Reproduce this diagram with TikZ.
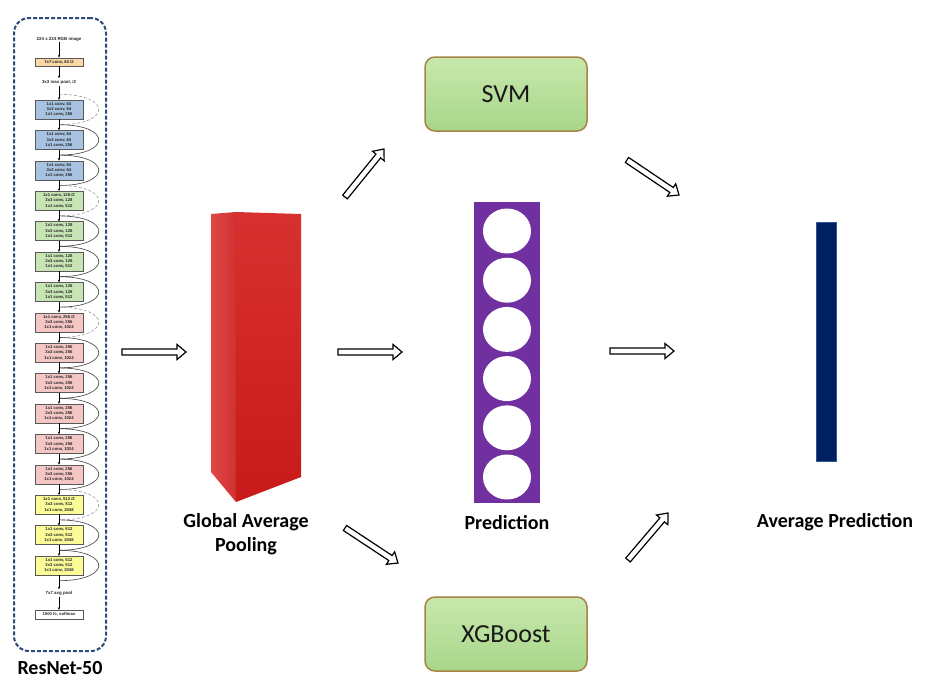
\documentclass[tikz,border=0pt]{standalone}
\usepackage{fontspec}
\setmainfont{Carlito}
\newfontfamily\arialf{Liberation Sans}
\usetikzlibrary{calc,arrows.meta}
\definecolor{boxblue}{HTML}{2E4A78}
\definecolor{cblue}{HTML}{A7C3E1}
\definecolor{cgreen}{HTML}{C7E4B4}
\definecolor{cpink}{HTML}{F4C7C4}
\definecolor{cyellow}{HTML}{FBFB98}
\definecolor{corange}{HTML}{F9D7A6}
\definecolor{redA}{HTML}{E04848}
\definecolor{redB}{HTML}{D03030}
\definecolor{redC}{HTML}{D83030}
\definecolor{redD}{HTML}{C81A1A}
\definecolor{purp}{HTML}{7030A0}
\definecolor{navy}{HTML}{002060}
\definecolor{navyedge}{HTML}{2F5597}
\definecolor{grnTop}{HTML}{C8E8AC}
\definecolor{grnBot}{HTML}{A8D68A}
\definecolor{grnEdge}{HTML}{A58444}

\newcommand{\blockarrow}[2]{%
  \coordinate (bah) at ($(#2)!9pt!(#1)$);
  \draw[barrow] ($(#1)!3pt!90:(#2)$) -- ($(bah)!3pt!-90:(#1)$) -- ($(bah)!7.5pt!-90:(#1)$)
    -- (#2) -- ($(bah)!7.5pt!90:(#1)$) -- ($(bah)!3pt!90:(#1)$) -- ($(#1)!3pt!-90:(#2)$) -- cycle;}

\newcommand{\resblock}[6]{%
  \pgfmathsetmacro{\yt}{100+30.4*#1}%
  \draw[#6] (59,\yt-5.7) .. controls (112,\yt-5.7) and (112,\yt+24.7) .. (59,\yt+24.7);
  \node[rblock,fill=#2] (b#1) at (59,\yt+9.5) {#3\\#4\\#5};}

\begin{document}
\begin{tikzpicture}[x=1pt,y=-1pt,
  barrow/.style={draw=black,fill=white,line width=1.2pt,line join=miter},
  rblock/.style={draw=gray!70!black,line width=0.4pt,minimum width=48pt,minimum height=19pt,
     inner sep=0pt,align=center,font=\arialf\bfseries\fontsize{4.2}{5.3}\selectfont,text=black!85},
  tinytext/.style={inner sep=0pt,font=\arialf\bfseries\fontsize{4.4}{5.3}\selectfont,text=black!85},
  vline/.style={line width=0.5pt,-{Stealth[length=2.6pt,width=2.4pt]}},
  skipsolid/.style={line width=0.6pt,draw=black!75},
  skipdash/.style={line width=0.5pt,draw=black!45,densely dashed},
  clsbox/.style={rounded corners=10pt,minimum width=162pt,minimum height=74pt,
     draw=grnEdge,line width=1.5pt,top color=grnTop,bottom color=grnBot,
     font=\fontsize{26}{30}\selectfont,text=black!90},
  biglabel/.style={font=\bfseries\fontsize{20}{24}\selectfont,align=center,inner sep=0pt}]
\useasboundingbox (0,0) rectangle (934,691);
\fill[white] (0,0) rectangle (934,691);

% ResNet-50 column
\node[draw=boxblue,line width=2pt,dash pattern=on 4pt off 2pt,rounded corners=15pt,
  minimum width=92pt,minimum height=633pt] (resbox) at (60,334.5) {};
\node[tinytext] (inimg) at (59,39) {224 x 224 RGB image};
\node[rblock,fill=corange,minimum height=8.5pt] (conv1) at (59,62) {7x7 conv, 64 /2};
\node[tinytext] (mpool) at (59,82) {3x3 max pool, /2};

\resblock{0}{cblue}{1x1 conv, 64}{3x3 conv, 64}{1x1 conv, 256}{skipdash}
\resblock{1}{cblue}{1x1 conv, 64}{3x3 conv, 64}{1x1 conv, 256}{skipsolid}
\resblock{2}{cblue}{1x1 conv, 64}{3x3 conv, 64}{1x1 conv, 256}{skipsolid}
\resblock{3}{cgreen}{1x1 conv, 128 /2}{3x3 conv, 128}{1x1 conv, 512}{skipdash}
\resblock{4}{cgreen}{1x1 conv, 128}{3x3 conv, 128}{1x1 conv, 512}{skipsolid}
\resblock{5}{cgreen}{1x1 conv, 128}{3x3 conv, 128}{1x1 conv, 512}{skipsolid}
\resblock{6}{cgreen}{1x1 conv, 128}{3x3 conv, 128}{1x1 conv, 512}{skipsolid}
\resblock{7}{cpink}{1x1 conv, 256 /2}{3x3 conv, 256}{1x1 conv, 1024}{skipdash}
\resblock{8}{cpink}{1x1 conv, 256}{3x3 conv, 256}{1x1 conv, 1024}{skipsolid}
\resblock{9}{cpink}{1x1 conv, 256}{3x3 conv, 256}{1x1 conv, 1024}{skipsolid}
\resblock{10}{cpink}{1x1 conv, 256}{3x3 conv, 256}{1x1 conv, 1024}{skipsolid}
\resblock{11}{cpink}{1x1 conv, 256}{3x3 conv, 256}{1x1 conv, 1024}{skipsolid}
\resblock{12}{cpink}{1x1 conv, 256}{3x3 conv, 256}{1x1 conv, 1024}{skipsolid}
\resblock{13}{cyellow}{1x1 conv, 512 /2}{3x3 conv, 512}{1x1 conv, 2048}{skipdash}
\resblock{14}{cyellow}{1x1 conv, 512}{3x3 conv, 512}{1x1 conv, 2048}{skipsolid}
\resblock{15}{cyellow}{1x1 conv, 512}{3x3 conv, 512}{1x1 conv, 2048}{skipsolid}

\node[tinytext] (apool) at (59,593) {7x7 avg pool};
\node[rblock,fill=white,minimum height=9pt] (fc) at (59,614.5) {1000 fc, softmax};

\draw[vline] (inimg.south) ++(0,1) -- (conv1.north);
\draw[vline] (conv1.south) -- ($(mpool.north)+(0,-1.5)$);
\draw[vline] ($(mpool.south)+(0,1.5)$) -- (b0.north);
\foreach \i [evaluate=\i as \j using int(\i+1)] in {0,...,14}
  \draw[vline] (b\i.south) -- (b\j.north);
\draw[vline] (b15.south) -- ($(apool.north)+(0,-1.5)$);
\draw[vline] ($(apool.south)+(0,1.5)$) -- (fc.north);

\node[biglabel] (resname) at (60,668) {ResNet-50};

% Global average pooling cuboid
\shade[left color=redA,right color=redB] (211,214) -- (236,212) -- (236,502) -- (211,472) -- cycle;
\shade[top color=redC,bottom color=redD] (236,212) -- (301,214) -- (301,477) -- (236,502) -- cycle;
\coordinate (gap) at (256,357);
\node[biglabel] (gaplabel) at (246,534) {Global Average\\Pooling};

% classifiers
\node[clsbox] (svm) at (506,94) {SVM};
\node[clsbox] (xgb) at (506,634) {XGBoost};

% prediction column
\node[fill=purp,minimum width=66pt,minimum height=301pt,inner sep=0pt] (pred) at (507,352.5) {};
\foreach \k in {0,...,5}
  \fill[white] (507,231+49.2*\k) ellipse [x radius=24pt,y radius=22.5pt];
\node[biglabel] (predlabel) at (507,523) {Prediction};

% average prediction bar
\node[fill=navy,draw=navyedge,line width=1.5pt,minimum width=20pt,minimum height=239pt,inner sep=0pt] (avg) at (826.5,342) {};
\node[biglabel] (avglabel) at (835,522) {Average Prediction};

% block arrows
\coordinate (a1s) at (122,352); \coordinate (a1e) at (186,352);
\coordinate (a2s) at (338,352); \coordinate (a2e) at (402,352);
\coordinate (a3s) at (610,351); \coordinate (a3e) at (674,351);
\coordinate (a4s) at (345,197); \coordinate (a4e) at (384,149);
\coordinate (a5s) at (345,528); \coordinate (a5e) at (398,563);
\coordinate (a6s) at (627,160); \coordinate (a6e) at (679,195);
\coordinate (a7s) at (628,560); \coordinate (a7e) at (668,513);
\blockarrow{a1s}{a1e}
\blockarrow{a2s}{a2e}
\blockarrow{a3s}{a3e}
\blockarrow{a4s}{a4e}
\blockarrow{a5s}{a5e}
\blockarrow{a6s}{a6e}
\blockarrow{a7s}{a7e}
\end{tikzpicture}
\end{document}
